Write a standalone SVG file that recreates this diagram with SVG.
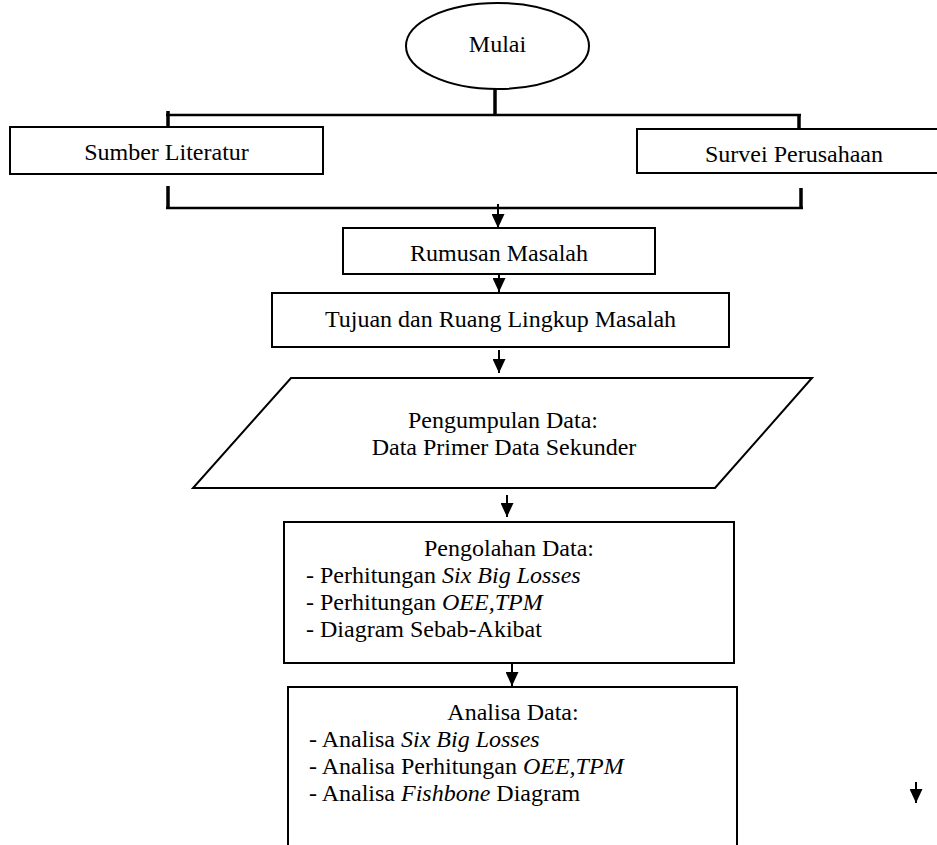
<svg xmlns="http://www.w3.org/2000/svg" width="937" height="845" viewBox="0 0 937 845">
<style>
  .shape { fill: #ffffff; stroke: #000000; stroke-width: 2; }
  .lbl { font-family: "Liberation Serif", "Times New Roman", serif; font-size: 24px; fill: #000000; }
  .mid { text-anchor: middle; }
  .it { font-style: italic; }
  .bracket { stroke: #000000; fill: none; stroke-width: 2.5; }
  .tick { stroke: #000000; fill: none; stroke-width: 3.5; }
  .arrow { stroke: #000000; fill: none; stroke-width: 2; marker-end: url(#ah); }
</style>
<defs>
  <marker id="ah" markerUnits="userSpaceOnUse" markerWidth="14" markerHeight="13" refX="14" refY="6.5" orient="auto" viewBox="0 0 14 13">
    <path d="M0,0 L14,6.5 L0,13 Z" fill="#000000"/>
  </marker>
</defs>
<rect width="937" height="845" fill="#ffffff"/>

<g id="connectors">
  <line class="tick" x1="495" y1="89" x2="495" y2="115"/>
  <line class="bracket" x1="166" y1="115" x2="801" y2="115"/>
  <line class="tick" x1="168" y1="111" x2="168" y2="128"/>
  <line class="tick" x1="799" y1="115" x2="799" y2="130"/>
  <line class="tick" x1="168" y1="186" x2="168" y2="209"/>
  <line class="tick" x1="801" y1="188" x2="801" y2="209"/>
  <line class="bracket" x1="166" y1="208" x2="803" y2="208"/>
  <line class="arrow" x1="498" y1="204" x2="498" y2="228"/>
  <line class="arrow" x1="499" y1="267" x2="499" y2="292"/>
  <line class="arrow" x1="499" y1="350" x2="499" y2="373"/>
  <line class="arrow" x1="507" y1="495" x2="507" y2="517"/>
  <line class="arrow" x1="512" y1="663" x2="512" y2="686"/>
  <line class="arrow" x1="916" y1="782" x2="916" y2="803"/>
</g>

<g id="mulai">
  <ellipse class="shape" cx="497.5" cy="46" rx="91.5" ry="43"/>
  <text class="lbl mid" x="497.5" y="52">Mulai</text>
</g>

<g id="sumber-literatur">
  <rect class="shape" x="10" y="127" width="313" height="47"/>
  <text class="lbl mid" x="166.5" y="160">Sumber Literatur</text>
</g>

<g id="survei-perusahaan">
  <rect class="shape" x="637" y="129" width="314" height="44"/>
  <text class="lbl mid" x="794" y="162">Survei Perusahaan</text>
</g>

<g id="rumusan-masalah">
  <rect class="shape" x="343" y="228" width="312" height="46"/>
  <text class="lbl mid" x="499" y="261">Rumusan Masalah</text>
</g>

<g id="tujuan">
  <rect class="shape" x="272" y="293" width="457" height="54"/>
  <text class="lbl mid" x="500.5" y="327">Tujuan dan Ruang Lingkup Masalah</text>
</g>

<g id="pengumpulan-data">
  <polygon class="shape" points="291,378 812,378 715,488 193,488"/>
  <text class="lbl mid" x="503" y="428">Pengumpulan Data:</text>
  <text class="lbl mid" x="504" y="455">Data Primer Data Sekunder</text>
</g>

<g id="pengolahan-data">
  <rect class="shape" x="284" y="522" width="450" height="141"/>
  <text class="lbl mid" x="509" y="556">Pengolahan Data:</text>
  <text class="lbl" x="306" y="583">- Perhitungan <tspan class="it">Six Big Losses</tspan></text>
  <text class="lbl" x="306" y="610">- Perhitungan <tspan class="it">OEE,TPM</tspan></text>
  <text class="lbl" x="306" y="637">- Diagram Sebab-Akibat</text>
</g>

<g id="analisa-data">
  <rect class="shape" x="288" y="687" width="449" height="175"/>
  <text class="lbl mid" x="513" y="720">Analisa Data:</text>
  <text class="lbl" x="309" y="747">- Analisa <tspan class="it">Six Big Losses</tspan></text>
  <text class="lbl" x="309" y="774">- Analisa Perhitungan <tspan class="it">OEE,TPM</tspan></text>
  <text class="lbl" x="309" y="801">- Analisa <tspan class="it">Fishbone</tspan> Diagram</text>
</g>
</svg>
